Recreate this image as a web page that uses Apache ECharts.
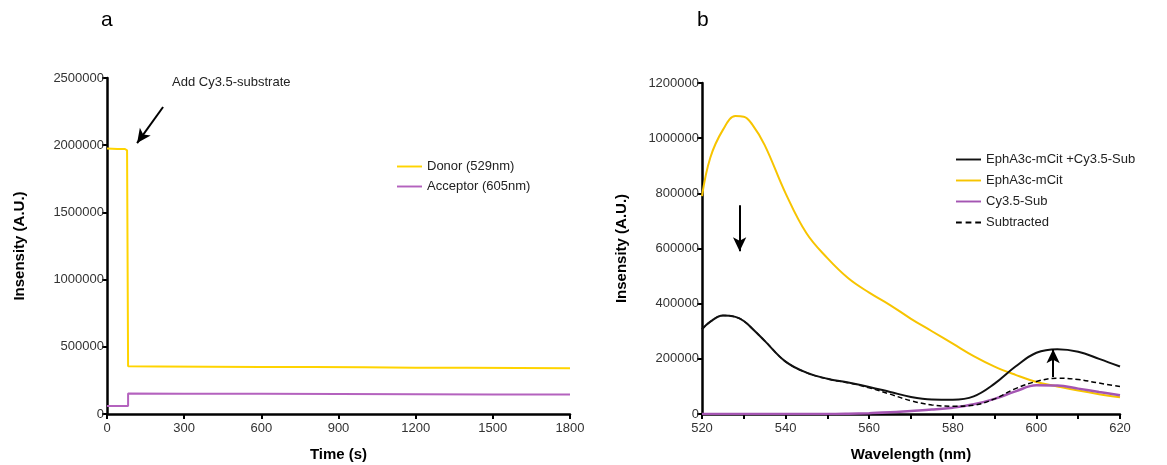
<!DOCTYPE html>
<html>
<head>
<meta charset="utf-8">
<script src="https://cdn.jsdelivr.net/npm/echarts@6/dist/echarts.min.js"></script>
<style>
  html, body { margin: 0; padding: 0; background: #fff; }
  #chart { width: 1167px; height: 465px; }
</style>
</head>
<body>
<div id="chart"></div>
<script>
// panel a: time course
const timeDonor = [0, 40, 70, 78, 82, 82, 200, 400, 600, 800, 1000, 1200, 1400, 1600, 1800]
const donorVals = [1975000, 1972000, 1972000, 1962000, 1965000, 355000, 354000, 352000, 350000, 349000, 347000, 345000, 344000, 342000, 340000]
const timeAcceptor = [0, 82, 82, 300, 600, 900, 1200, 1500, 1800]
const acceptorVals = [60000, 60000, 152000, 151000, 150000, 149000, 147000, 146000, 145000]

// panel b: emission spectra
const wavelengths = [520, 522, 525, 528, 530, 532, 535, 540, 545, 550, 555, 560, 565, 570, 575, 580, 585, 590, 595, 600, 605, 610, 615, 620]
const mixVals = [307000, 335000, 357000, 352000, 337000, 310000, 265000, 190000, 150000, 128000, 114000, 98000, 80000, 62000, 53000, 52000, 64000, 110000, 172000, 222000, 235000, 226000, 200000, 172000]
const mcitVals = [790000, 930000, 1030000, 1080000, 1078000, 1050000, 975000, 800000, 655000, 565000, 492000, 440000, 395000, 345000, 300000, 255000, 210000, 172000, 142000, 116000, 100000, 85000, 72000, 61000]
const cySubVals = [0, 0, 0, 0, 0, 0, 0, 0, 0, 0, 1000, 3000, 6000, 11000, 16000, 23000, 35000, 55000, 82000, 104000, 103000, 92000, 80000, 68000]
const subtractedVals = [307000, 335000, 357000, 352000, 337000, 310000, 265000, 190000, 150000, 127000, 113000, 95000, 72000, 48000, 33000, 28000, 32000, 55000, 92000, 118000, 130000, 125000, 112000, 100000]

// annotation arrows (data coords)
const arrowA = [[218, 2284000], [117, 2016000]]
const arrowDown = [[529, 757000], [529, 590000]]
const arrowUp = [[604, 134000], [604, 235000]]

const pairs = (xs, ys) => xs.map((x, i) => [x, ys[i]])

const font = 'Liberation Sans, Arial, sans-serif'
const axisLineStyle = { color: '#000', width: 2.5 }
const tickLabel = { color: '#333', fontSize: 13, fontFamily: font, formatter: v => String(v) }
const nameStyle = { color: '#000', fontSize: 15, fontWeight: 'bold', fontFamily: font }
// legend icons: plain line and dashed line
const solidIcon = 'path://M0,0H26V2H0Z'
const dashIcon = 'path://M0,0H6V2H0Z M10,0H16V2H10Z M20,0H26V2H20Z'

function arrow (pts) {
  return {
    silent: true,
    symbol: ['none', 'arrow'],
    symbolSize: [10, 14],
    label: { show: false },
    lineStyle: { color: '#000', width: 2, type: 'solid' },
    data: [[{ coord: pts[0] }, { coord: pts[1] }]]
  }
}

let myChart = echarts.init(document.getElementById('chart'))
let option = {
  animation: false,
  grid: [
    { left: 107, top: 78, width: 463, height: 336, outerBoundsMode: 'none' },
    { left: 702, top: 83, width: 418, height: 331, outerBoundsMode: 'none' }
  ],
  legend: [
    {
      data: [
        { name: 'Donor (529nm)', icon: solidIcon },
        { name: 'Acceptor (605nm)', icon: solidIcon }
      ],
      orient: 'vertical',
      left: 392,
      top: 155,
      itemWidth: 25,
      itemHeight: 2.5,
      itemGap: 7,
      textStyle: { color: '#222', fontSize: 13, fontFamily: font }
    },
    {
      data: [
        { name: 'EphA3c-mCit +Cy3.5-Sub', icon: solidIcon },
        { name: 'EphA3c-mCit', icon: solidIcon },
        { name: 'Cy3.5-Sub', icon: solidIcon },
        { name: 'Subtracted', icon: dashIcon }
      ],
      orient: 'vertical',
      left: 951,
      top: 148,
      itemWidth: 25,
      itemHeight: 2.5,
      itemGap: 8,
      textStyle: { color: '#222', fontSize: 13, fontFamily: font }
    }
  ],
  xAxis: [
    {
      gridIndex: 0,
      type: 'value',
      min: 0,
      max: 1800,
      interval: 300,
      name: 'Time (s)',
      nameLocation: 'middle',
      nameGap: 33,
      nameTextStyle: nameStyle,
      axisLine: { lineStyle: axisLineStyle },
      axisTick: { length: 5, lineStyle: { color: '#000', width: 2 } },
      axisLabel: tickLabel,
      splitLine: { show: false }
    },
    {
      gridIndex: 1,
      type: 'value',
      min: 520,
      max: 620,
      interval: 20,
      name: 'Wavelength (nm)',
      nameLocation: 'middle',
      nameGap: 33,
      nameTextStyle: nameStyle,
      axisLine: { lineStyle: axisLineStyle },
      axisTick: { length: 5, lineStyle: { color: '#000', width: 2 } },
      minorTick: { show: true, splitNumber: 2, length: 5, lineStyle: { color: '#000', width: 2 } },
      axisLabel: tickLabel,
      splitLine: { show: false }
    }
  ],
  yAxis: [
    {
      gridIndex: 0,
      type: 'value',
      min: 0,
      max: 2500000,
      interval: 500000,
      name: 'Insensity (A.U.)',
      nameLocation: 'middle',
      nameGap: 80,
      nameRotate: 90,
      nameTextStyle: nameStyle,
      axisLine: { show: true, lineStyle: axisLineStyle },
      axisTick: { show: true, length: 5, lineStyle: { color: '#000', width: 2 } },
      axisLabel: Object.assign({}, tickLabel, { margin: 3 }),
      splitLine: { show: false }
    },
    {
      gridIndex: 1,
      type: 'value',
      min: 0,
      max: 1200000,
      interval: 200000,
      name: 'Insensity (A.U.)',
      nameLocation: 'middle',
      nameGap: 73,
      nameRotate: 90,
      nameTextStyle: nameStyle,
      axisLine: { show: true, lineStyle: axisLineStyle },
      axisTick: { show: true, length: 5, lineStyle: { color: '#000', width: 2 } },
      axisLabel: Object.assign({}, tickLabel, { margin: 3 }),
      splitLine: { show: false }
    }
  ],
  series: [
    {
      name: 'Donor (529nm)',
      type: 'line',
      xAxisIndex: 0,
      yAxisIndex: 0,
      symbol: 'none',
      color: '#FFD400',
      lineStyle: { width: 2 },
      data: pairs(timeDonor, donorVals),
      markLine: arrow(arrowA)
    },
    {
      name: 'Acceptor (605nm)',
      type: 'line',
      xAxisIndex: 0,
      yAxisIndex: 0,
      symbol: 'none',
      color: '#B462BE',
      lineStyle: { width: 2 },
      data: pairs(timeAcceptor, acceptorVals)
    },
    {
      name: 'EphA3c-mCit',
      type: 'line',
      xAxisIndex: 1,
      yAxisIndex: 1,
      symbol: 'none',
      smooth: 0.4,
      color: '#F7C400',
      lineStyle: { width: 2 },
      data: pairs(wavelengths, mcitVals),
      markLine: arrow(arrowDown)
    },
    {
      name: 'Cy3.5-Sub',
      type: 'line',
      xAxisIndex: 1,
      yAxisIndex: 1,
      symbol: 'none',
      smooth: 0.4,
      color: '#A455B2',
      lineStyle: { width: 2.5 },
      data: pairs(wavelengths, cySubVals)
    },
    {
      name: 'Subtracted',
      type: 'line',
      xAxisIndex: 1,
      yAxisIndex: 1,
      symbol: 'none',
      smooth: 0.4,
      color: '#000',
      lineStyle: { width: 1.5, type: [5, 3] },
      data: pairs(wavelengths, subtractedVals)
    },
    {
      name: 'EphA3c-mCit +Cy3.5-Sub',
      type: 'line',
      xAxisIndex: 1,
      yAxisIndex: 1,
      symbol: 'none',
      smooth: 0.4,
      color: '#111',
      lineStyle: { width: 2 },
      data: pairs(wavelengths, mixVals),
      markLine: arrow(arrowUp)
    }
  ],
  graphic: [
    { type: 'text', left: 101, top: 10, style: { text: 'a', fontSize: 21, fontFamily: font, fill: '#000' } },
    { type: 'text', left: 697, top: 10, style: { text: 'b', fontSize: 21, fontFamily: font, fill: '#000' } },
    { type: 'text', left: 172, top: 76, style: { text: 'Add Cy3.5-substrate', fontSize: 13, fontFamily: font, fill: '#222' } }
  ]
}
myChart.setOption(option, true)
</script>
</body>
</html>
